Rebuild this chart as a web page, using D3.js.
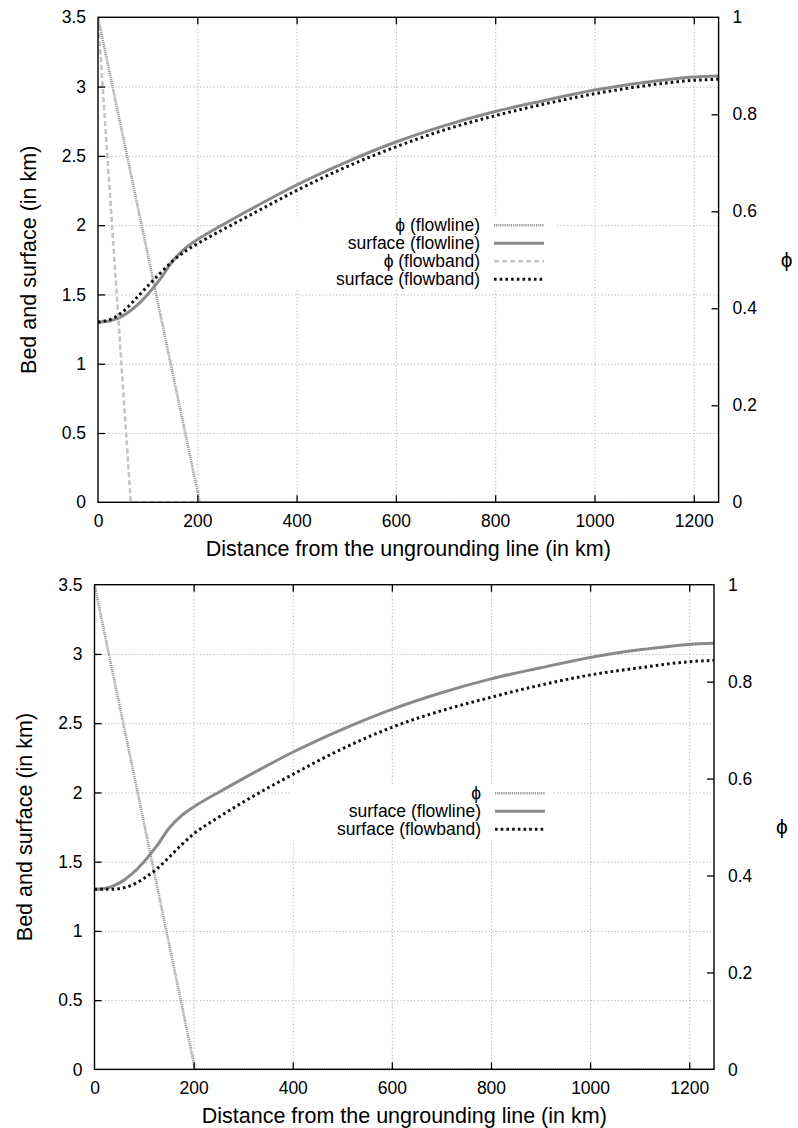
<!DOCTYPE html>
<html>
<head>
<meta charset="utf-8">
<script src="https://cdn.jsdelivr.net/npm/d3@7"></script>
<style>
  body { margin: 0; background: #fff; }
  svg { display: block; font-family: "Liberation Sans", Arial, sans-serif; }
</style>
</head>
<body>
<script>
// stations along the flowline (km)
const km = [0, 25, 50, 75, 100, 125, 150, 175, 200, 250, 300, 400, 500, 600, 700, 800, 900, 1000, 1100, 1200, 1250];

// surface elevation (km)
const surfaceFlowline = [1.30, 1.31, 1.345, 1.41, 1.50, 1.61, 1.74, 1.83, 1.895, 2.0, 2.1, 2.29, 2.455, 2.60, 2.72, 2.82, 2.90, 2.975, 3.03, 3.069, 3.077];
const surfaceFlowbandTop = [1.30, 1.32, 1.375, 1.465, 1.56, 1.652, 1.74, 1.81, 1.865, 1.965, 2.06, 2.25, 2.42, 2.565, 2.69, 2.79, 2.875, 2.948, 3.005, 3.045, 3.053];
const surfaceFlowbandBottom = [1.30, 1.30, 1.305, 1.33, 1.38, 1.445, 1.53, 1.62, 1.70, 1.82, 1.93, 2.13, 2.315, 2.47, 2.59, 2.687, 2.775, 2.848, 2.90, 2.944, 2.954];

// phi (0..1): linear drop then zero
const phiFlowlineKm = [0, 205, 1250];
const phiFlowlineVal = [1, 0, 0];
const phiFlowbandKm = [0, 66, 1250];
const phiFlowbandVal = [1, 0, 0];
const phiBottomKm = [0, 203, 1250];
const phiBottomVal = [1, 0, 0];

const xTicks = [0, 200, 400, 600, 800, 1000, 1200];
const yTicks = [0, 0.5, 1, 1.5, 2, 2.5, 3, 3.5];
const y2Ticks = [0, 0.2, 0.4, 0.6, 0.8, 1];

const xTitle = "Distance from the ungrounding line (in km)";
const yTitle = "Bed and surface (in km)";
const y2Title = "ϕ";

const zip = (xs, ys) => xs.map((x, i) => [x, ys[i]]);

const styles = {
	phiLine: { stroke: "#999", width: 2.6, dash: "1.2,0.9", cap: "butt" },
	surfLine: { stroke: "#8a8a8a", width: 3, dash: null, cap: "butt" },
	phiBand: { stroke: "#c4c4c4", width: 2.6, dash: "5,3", cap: "butt" },
	surfBand: { stroke: "#111", width: 3, dash: "2.6,3.1", cap: "butt" }
};

const svg = d3.select("body").append("svg").attr("width", 798).attr("height", 1128);

const drawPanel = (p, idx) => {
	const g = svg.append("g");
	const w = p.right - p.left;
	const h = p.bottom - p.top;
	const x = d3.scaleLinear().domain([0, 1250]).range([p.left, p.right]);
	const y = d3.scaleLinear().domain([0, 3.5]).range([p.bottom, p.top]);
	const y2 = d3.scaleLinear().domain([0, 1]).range([p.bottom, p.top]);

	// grid
	const gx = g.append("g")
		.attr("transform", "translate(0," + p.bottom + ")")
		.call(d3.axisBottom(x).tickValues(xTicks.slice(1)).tickSize(-h).tickFormat(""));
	const gy = g.append("g")
		.attr("transform", "translate(" + p.left + ",0)")
		.call(d3.axisLeft(y).tickValues(yTicks.slice(1, -1)).tickSize(-w).tickFormat(""));
	[gx, gy].forEach((a) => {
		a.select(".domain").remove();
		a.selectAll("line").attr("stroke", "#b4b4b4").attr("stroke-width", 1).attr("stroke-dasharray", "1.2,2.2");
	});

	// key background hides grid
	g.append("rect")
		.attr("x", p.keyLeft)
		.attr("y", p.top + p.keyTop - 9)
		.attr("width", p.keyRight - p.keyLeft)
		.attr("height", p.series.length * 18 + 1)
		.attr("fill", "#fff");

	const clipId = "clip" + idx;
	g.append("clipPath").attr("id", clipId)
		.append("rect").attr("x", p.left).attr("y", p.top).attr("width", w).attr("height", h);

	const lines = g.append("g").attr("clip-path", "url(#" + clipId + ")");
	p.series.forEach((s) => {
		const sc = s.axis === 2 ? y2 : y;
		const line = d3.line().x((d) => x(d[0])).y((d) => sc(d[1]))
			.curve(s.axis === 2 ? d3.curveLinear : d3.curveMonotoneX);
		const st = styles[s.style];
		lines.append("path")
			.datum(s.data)
			.attr("fill", "none")
			.attr("stroke", st.stroke)
			.attr("stroke-width", st.width)
			.attr("stroke-dasharray", st.dash)
			.attr("stroke-linecap", st.cap)
			.attr("d", line);
	});

	// border
	g.append("rect")
		.attr("x", p.left).attr("y", p.top).attr("width", w).attr("height", h)
		.attr("fill", "none").attr("stroke", "#000").attr("stroke-width", 1.4);

	const axStyle = (a) => {
		a.select(".domain").remove();
		a.selectAll(".tick line").attr("stroke", "#000").attr("stroke-width", 1.3);
		a.selectAll("text").attr("font-size", "17.5px").attr("fill", "#000")
			.attr("font-family", "Liberation Sans, Arial, sans-serif");
	};
	const ax = g.append("g").attr("transform", "translate(0," + p.bottom + ")")
		.call(d3.axisBottom(x).tickValues(xTicks).tickSize(-7).tickPadding(12).tickFormat(d3.format("d")));
	const axTop = g.append("g").attr("transform", "translate(0," + p.top + ")")
		.call(d3.axisTop(x).tickValues(xTicks.slice(1)).tickSize(-7).tickFormat(""));
	const ay = g.append("g").attr("transform", "translate(" + p.left + ",0)")
		.call(d3.axisLeft(y).tickValues(yTicks).tickSize(-7).tickPadding(12).tickFormat(d3.format("~g")));
	const ay2 = g.append("g").attr("transform", "translate(" + p.right + ",0)")
		.call(d3.axisRight(y2).tickValues(y2Ticks).tickSize(-7).tickPadding(14).tickFormat(d3.format("~g")));
	[ax, axTop, ay, ay2].forEach(axStyle);
	// no tick marks drawn on the corners
	ax.selectAll(".tick").filter((d) => d === 0).select("line").remove();
	ay.selectAll(".tick").filter((d) => d === 0 || d === 3.5).select("line").remove();
	ay2.selectAll(".tick").filter((d) => d === 0 || d === 1).select("line").remove();

	// titles
	g.append("text")
		.attr("x", (p.left + p.right) / 2)
		.attr("y", p.bottom + 46)
		.attr("dy", "0.35em")
		.attr("text-anchor", "middle")
		.attr("font-size", "21.5px")
		.text(xTitle);
	g.append("text")
		.attr("transform", "translate(" + (p.left - 70) + "," + (p.top + h / 2) + ") rotate(-90)")
		.attr("dy", "0.35em")
		.attr("text-anchor", "middle")
		.attr("font-size", "21.5px")
		.text(yTitle);
	g.append("text")
		.attr("x", p.right + 68)
		.attr("y", p.top + h / 2)
		.attr("dy", "0.35em")
		.attr("text-anchor", "middle")
		.attr("font-size", "21px")
		.text(y2Title);

	// key
	p.series.forEach((s, i) => {
		const yy = p.top + p.keyTop + i * 18;
		const st = styles[s.style];
		g.append("text")
			.attr("x", p.keyText)
			.attr("y", yy)
			.attr("dy", "0.35em")
			.attr("text-anchor", "end")
			.attr("font-size", "17.5px")
			.text(s.label);
		g.append("line")
			.attr("x1", p.keyText + 14).attr("x2", p.keyText + 64)
			.attr("y1", yy).attr("y2", yy)
			.attr("stroke", st.stroke)
			.attr("stroke-width", st.width)
			.attr("stroke-dasharray", st.dash)
			.attr("stroke-linecap", st.cap);
	});
};

const panels = [
	{
		left: 98, right: 718.6, top: 17.3, bottom: 502.3,
		keyTop: 208, keyText: 480, keyLeft: 248, keyRight: 555,
		series: [
			{ label: "ϕ (flowline)", style: "phiLine", axis: 2, data: zip(phiFlowlineKm, phiFlowlineVal) },
			{ label: "surface (flowline)", style: "surfLine", axis: 1, data: zip(km, surfaceFlowline) },
			{ label: "ϕ (flowband)", style: "phiBand", axis: 2, data: zip(phiFlowbandKm, phiFlowbandVal) },
			{ label: "surface (flowband)", style: "surfBand", axis: 1, data: zip(km, surfaceFlowbandTop) }
		]
	},
	{
		left: 94.5, right: 714, top: 584.7, bottom: 1069.4,
		keyTop: 208.5, keyText: 481, keyLeft: 290, keyRight: 552,
		series: [
			{ label: "ϕ", style: "phiLine", axis: 2, data: zip(phiBottomKm, phiBottomVal) },
			{ label: "surface (flowline)", style: "surfLine", axis: 1, data: zip(km, surfaceFlowline) },
			{ label: "surface (flowband)", style: "surfBand", axis: 1, data: zip(km, surfaceFlowbandBottom) }
		]
	}
];

panels.forEach(drawPanel);
</script>
</body>
</html>
